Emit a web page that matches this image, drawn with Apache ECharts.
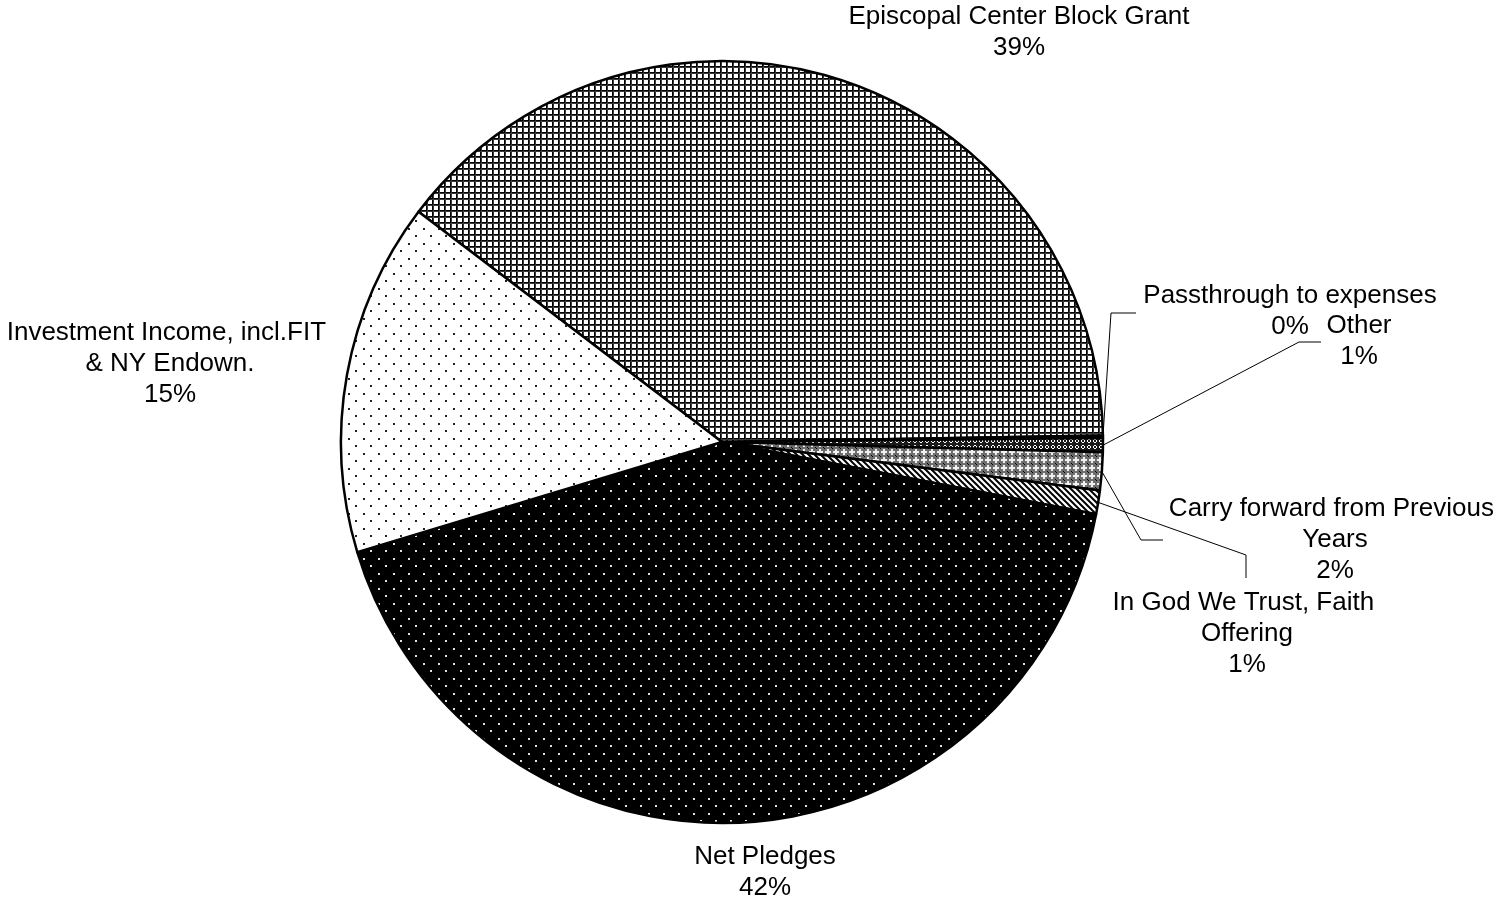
<!DOCTYPE html>
<html>
<head>
<meta charset="utf-8">
<script src="https://cdn.jsdelivr.net/npm/echarts@6/dist/echarts.min.js"></script>
<style>
  html, body { margin: 0; padding: 0; background: #ffffff; }
  #chart { width: 1506px; height: 906px; }
</style>
</head>
<body>
<div id="chart"></div>
<script>
// Income sources, in clockwise order starting from the upper-left edge
var categories = [
  'Episcopal Center Block Grant',
  'Passthrough to expenses',
  'Other',
  'Carry forward from Previous Years',
  'In God We Trust, Faith Offering',
  'Net Pledges',
  'Investment Income, incl.FIT & NY Endown.'
];
// Share of total income, percent
var shares = [39.4, 0.1, 0.6, 1.6, 1.0, 42.3, 15.0];

// ---- fill textures ----
function tile(w, h, draw) {
  var c = document.createElement('canvas');
  c.width = w; c.height = h;
  var g = c.getContext('2d');
  draw(g, w, h);
  return { image: c, repeat: 'repeat' };
}

// fine grid: white cells with dark rules
var gridFill = tile(6, 6, function (g, w, h) {
  g.fillStyle = '#ffffff'; g.fillRect(0, 0, w, h);
  g.fillStyle = '#000000';
  g.fillRect(0, 0, w, 1); g.fillRect(0, 0, 1, h);
  g.fillStyle = '#3a3a3a';
  g.fillRect(0, 1, w, 1); g.fillRect(1, 0, 1, h);
});

// sparse dots on white
var dotsOnWhite = tile(15, 15, function (g) {
  g.fillStyle = '#ffffff'; g.fillRect(0, 0, 15, 15);
  g.fillStyle = '#222222';
  g.fillRect(3, 3, 2, 2);
  g.fillRect(10, 10, 2, 2);
});

// sparse white dots on black
var dotsOnBlack = tile(15, 15, function (g) {
  g.fillStyle = '#000000'; g.fillRect(0, 0, 15, 15);
  g.fillStyle = '#e0e0e0';
  g.fillRect(3, 3, 2, 2);
  g.fillRect(10, 10, 2, 2);
});

// dark trellis
var trellisFill = tile(6, 6, function (g) {
  g.fillStyle = '#1a1a1a'; g.fillRect(0, 0, 6, 6);
  g.fillStyle = '#ffffff';
  g.fillRect(1, 2, 1, 2); g.fillRect(2, 1, 2, 1); g.fillRect(4, 2, 1, 2); g.fillRect(2, 4, 2, 1);
});

// mid-grey weave with light diamonds
var weaveFill = tile(8, 8, function (g) {
  g.fillStyle = '#6e6e6e'; g.fillRect(0, 0, 8, 8);
  g.fillStyle = '#f0f0f0';
  g.fillRect(3, 1, 2, 6); g.fillRect(1, 3, 6, 2);
  g.fillStyle = '#000000';
  g.fillRect(0, 0, 1, 1); g.fillRect(7, 7, 1, 1);
});

// wide downward diagonal stripes
var stripeFill = tile(6, 6, function (g) {
  g.fillStyle = '#ffffff'; g.fillRect(0, 0, 6, 6);
  g.strokeStyle = '#000000'; g.lineWidth = 2;
  g.beginPath();
  g.moveTo(-3, -3); g.lineTo(9, 9);
  g.moveTo(-3, 3); g.lineTo(3, 9);
  g.moveTo(3, -3); g.lineTo(9, 3);
  g.stroke();
});

var fills = [gridFill, gridFill, trellisFill, weaveFill, stripeFill, dotsOnBlack, dotsOnWhite];
var wrapWidths = [null, null, null, 345, 290, null, 340];

// label anchors (text block centres) and leader-line bends
var labelSpots = [
  { x: 1019, y: 32 },
  { x: 1290, y: 311, line: [[1111, 313], [1136, 313]] },
  { x: 1359, y: 341, line: [[1299, 342], [1321, 342]] },
  { x: 1335, y: 540, line: [[1141, 540], [1163, 540]] },
  { x: 1247, y: 634, line: [[1246, 555], [1246, 578]] },
  { x: 765, y: 872 },
  { x: 170, y: 364 }
];

var CX = 722, CY = 442, R = 381, START = 142.8;

var data = categories.map(function (name, i) {
  var item = {
    name: name,
    value: shares[i],
    itemStyle: { color: fills[i] },
    labelLine: { show: !!labelSpots[i].line }
  };
  if (wrapWidths[i]) {
    item.label = { width: wrapWidths[i], overflow: 'break' };
  }
  return item;
});

var chart = echarts.init(document.getElementById('chart'), null, { renderer: 'canvas' });

chart.setOption({
  backgroundColor: '#ffffff',
  animation: false,
  series: [{
    type: 'pie',
    center: [CX, CY],
    radius: R,
    startAngle: START,
    clockwise: true,
    avoidLabelOverlap: false,
    silent: true,
    percentPrecision: 2,
    itemStyle: { borderColor: '#000000', borderWidth: 2.5 },
    emphasis: { disabled: true },
    label: {
      show: true,
      position: 'outside',
      color: '#000000',
      fontFamily: '"Liberation Sans", Arial, sans-serif',
      fontSize: 26,
      lineHeight: 31,
      align: 'center',
      formatter: function (p) {
        return p.name + '\n' + Math.round(p.percent) + '%';
      }
    },
    labelLine: {
      length: 10,
      length2: 10,
      lineStyle: { color: '#000000', width: 1 }
    },
    labelLayout: function (p) {
      var spot = labelSpots[p.dataIndex];
      var out = { x: spot.x, y: spot.y, align: 'center', verticalAlign: 'middle' };
      if (spot.line) {
        var start;
        if (p.labelLinePoints && p.labelLinePoints[0]) {
          start = p.labelLinePoints[0];
        } else {
          start = [CX, CY];
        }
        out.labelLinePoints = [start].concat(spot.line);
      }
      return out;
    },
    data: data
  }]
});
</script>
</body>
</html>
